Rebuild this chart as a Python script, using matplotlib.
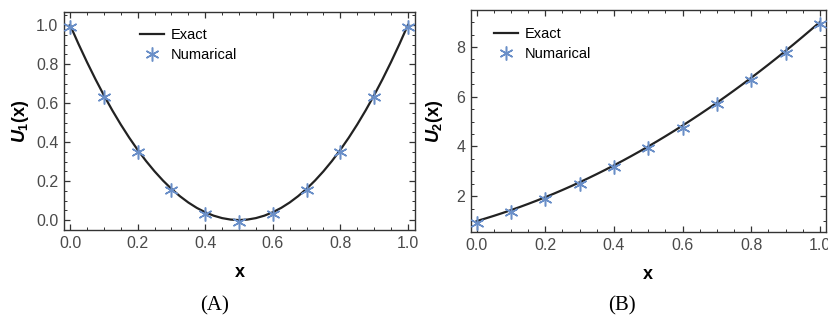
import matplotlib
matplotlib.use("Agg")
import matplotlib.pyplot as plt
from matplotlib.ticker import MultipleLocator
from matplotlib.lines import Line2D

plt.rcParams['font.family'] = ['Liberation Sans', 'DejaVu Sans']
plt.rcParams['mathtext.fontset'] = 'custom'
plt.rcParams['mathtext.it'] = 'Liberation Sans:bold:italic'
plt.rcParams['mathtext.rm'] = 'Liberation Sans:bold'
plt.rcParams['mathtext.bf'] = 'Liberation Sans:bold'

# Exact curves (sampled every 0.025)
x_exact = [0.000, 0.025, 0.050, 0.075, 0.100, 0.125, 0.150, 0.175, 0.200, 0.225,
           0.250, 0.275, 0.300, 0.325, 0.350, 0.375, 0.400, 0.425, 0.450, 0.475,
           0.500, 0.525, 0.550, 0.575, 0.600, 0.625, 0.650, 0.675, 0.700, 0.725,
           0.750, 0.775, 0.800, 0.825, 0.850, 0.875, 0.900, 0.925, 0.950, 0.975, 1.000]
u1_exact = [1.0000, 0.9025, 0.8100, 0.7225, 0.6400, 0.5625, 0.4900, 0.4225, 0.3600, 0.3025,
            0.2500, 0.2025, 0.1600, 0.1225, 0.0900, 0.0625, 0.0400, 0.0225, 0.0100, 0.0025,
            0.0000, 0.0025, 0.0100, 0.0225, 0.0400, 0.0625, 0.0900, 0.1225, 0.1600, 0.2025,
            0.2500, 0.3025, 0.3600, 0.4225, 0.4900, 0.5625, 0.6400, 0.7225, 0.8100, 0.9025, 1.0000]
u2_exact = [1.0000, 1.1025, 1.2100, 1.3225, 1.4400, 1.5625, 1.6900, 1.8225, 1.9600, 2.1025,
            2.2500, 2.4025, 2.5600, 2.7225, 2.8900, 3.0625, 3.2400, 3.4225, 3.6100, 3.8025,
            4.0000, 4.2025, 4.4100, 4.6225, 4.8400, 5.0625, 5.2900, 5.5225, 5.7600, 6.0025,
            6.2500, 6.5025, 6.7600, 7.0225, 7.2900, 7.5625, 7.8400, 8.1225, 8.4100, 8.7025, 9.0000]

# Numerical points
x_num = [0.0, 0.1, 0.2, 0.3, 0.4, 0.5, 0.6, 0.7, 0.8, 0.9, 1.0]
u1_num = [0.99, 0.63, 0.35, 0.155, 0.03, -0.01, 0.03, 0.155, 0.35, 0.63, 0.99]
u2_num = [0.94, 1.38, 1.87, 2.51, 3.16, 3.92, 4.75, 5.69, 6.67, 7.76, 8.92]

x_ticks = [0.0, 0.2, 0.4, 0.6, 0.8, 1.0]
u1_ticks = [0.0, 0.2, 0.4, 0.6, 0.8, 1.0]
u2_ticks = [2, 4, 6, 8]

line_color = '#222222'
star_color = '#6A8FC8'
tick_color = '#4a4a4a'
frame_color = '#333333'
star_marker = (6, 2, 0)

fig = plt.figure(figsize=(8.29, 3.22), dpi=100)
ax1 = fig.add_axes([0.0772, 0.2857, 0.4234, 0.676])
ax2 = fig.add_axes([0.5678, 0.2795, 0.4286, 0.689])

def style(ax, xt, yt, yminor, xlim, ylim, fmt):
    ax.set_xlim(*xlim)
    ax.set_ylim(*ylim)
    ax.set_xticks(xt)
    ax.set_xticklabels([f"{v:.1f}" for v in xt])
    ax.set_yticks(yt)
    ax.set_yticklabels([fmt(v) for v in yt])
    ax.xaxis.set_minor_locator(MultipleLocator(0.05))
    ax.yaxis.set_minor_locator(MultipleLocator(yminor))
    ax.tick_params(which='both', direction='in', top=True, right=True,
                   color=frame_color, labelcolor=tick_color, labelsize=11.5)
    ax.tick_params(which='major', length=4.5, width=0.9, pad=4)
    ax.tick_params(which='minor', length=2.5, width=0.7)
    for s in ax.spines.values():
        s.set_color(frame_color)
        s.set_linewidth(1.0)

for ax, ue, un in [(ax1, u1_exact, u1_num), (ax2, u2_exact, u2_num)]:
    ax.plot(x_exact, ue, color=line_color, lw=1.6, zorder=2)
    ax.plot(x_num, un, linestyle='none', marker=star_marker, markersize=10,
            color=star_color, markeredgecolor=star_color, markeredgewidth=1.1, zorder=3)

style(ax1, x_ticks, u1_ticks, 0.05, (-0.018, 1.021), (-0.051, 1.065), lambda v: f"{v:.1f}")
style(ax2, x_ticks, u2_ticks, 0.5, (-0.0175, 1.018), (0.56, 9.48), lambda v: f"{v:d}")

ax1.set_ylabel(r'$U_1$(x)', fontsize=13, fontweight='bold', labelpad=4)
ax2.set_ylabel(r'$U_2$(x)', fontsize=13, fontweight='bold', labelpad=8)
for ax in (ax1, ax2):
    ax.set_xlabel('x', fontsize=13, fontweight='bold', labelpad=10)

handles = [Line2D([], [], color=line_color, lw=1.6),
           Line2D([], [], linestyle='none', marker=star_marker, markersize=10,
                  color=star_color, markeredgewidth=1.1)]
labels = ['Exact', 'Numarical']
ax1.legend(handles, labels, loc='upper left', bbox_to_anchor=(0.18, 0.988), frameon=False,
           fontsize=10.5, handlelength=1.6, handletextpad=0.5, labelspacing=0.4)
ax2.legend(handles, labels, loc='upper left', bbox_to_anchor=(0.03, 0.984), frameon=False,
           fontsize=10.5, handlelength=1.6, handletextpad=0.5, labelspacing=0.4)

fig.text(215 / 829, 1 - 306 / 322, '(A)', ha='center', va='center', fontsize=15,
         family='Liberation Serif')
fig.text(622 / 829, 1 - 306 / 322, '(B)', ha='center', va='center', fontsize=15,
         family='Liberation Serif')

fig.savefig('out.png', dpi=100)
